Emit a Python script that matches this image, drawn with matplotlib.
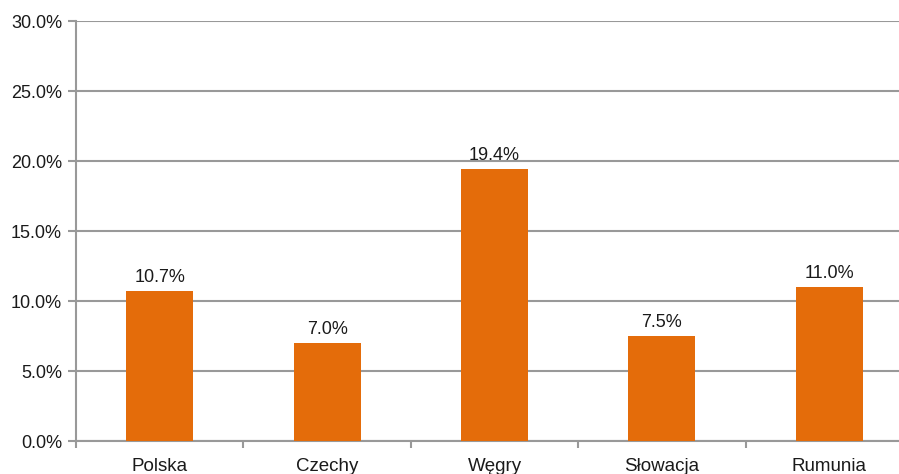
import matplotlib
matplotlib.use("Agg")
import matplotlib.pyplot as plt
import numpy as np
from matplotlib.ticker import FuncFormatter, FixedLocator

plt.rcParams['font.family'] = ['Liberation Sans', 'DejaVu Sans']

countries = ["Polska", "Czechy", "Węgry", "Słowacja", "Rumunia"]
values = [10.7, 7.0, 19.4, 7.5, 11.0]

bar_color = "#E46C0A"
grid_color = "#999999"

fig = plt.figure(figsize=(8.99, 4.74), dpi=100)
ax = fig.add_axes([76/899, 33/474, 837/899, 420/474])

x = np.arange(len(countries))
ax.bar(x, values, width=0.4, color=bar_color, zorder=3)
for xi, v in zip(x, values):
    ax.text(xi, v + 0.35, f"{v:.1f}%", ha='center', va='bottom', fontsize=13, color='#1a1a1a')

ax.set_xlim(-0.5, len(countries) - 0.5)
ax.set_ylim(0, 30)
ax.set_yticks(np.arange(0, 31, 5))
ax.yaxis.set_major_formatter(FuncFormatter(lambda v, p: f"{v:.1f}%"))
ax.yaxis.grid(True, color=grid_color, linewidth=1.5, zorder=0)

ax.set_xticks(x)
ax.set_xticklabels(countries)
ax.xaxis.set_minor_locator(FixedLocator(np.arange(-0.5, len(countries), 1.0)))
ax.tick_params(axis='x', which='major', length=0, pad=12, labelsize=13.5, labelcolor='#1a1a1a')
ax.tick_params(axis='x', which='minor', length=5, width=1.5, color=grid_color, direction='out')
ax.tick_params(axis='y', length=6, width=1.5, color=grid_color, labelsize=13, labelcolor='#1a1a1a', pad=4)

for s in ['top', 'right']:
    ax.spines[s].set_visible(False)
for s in ['left', 'bottom']:
    ax.spines[s].set_color(grid_color)
    ax.spines[s].set_linewidth(1.5)

fig.savefig("out.png", dpi=100)
